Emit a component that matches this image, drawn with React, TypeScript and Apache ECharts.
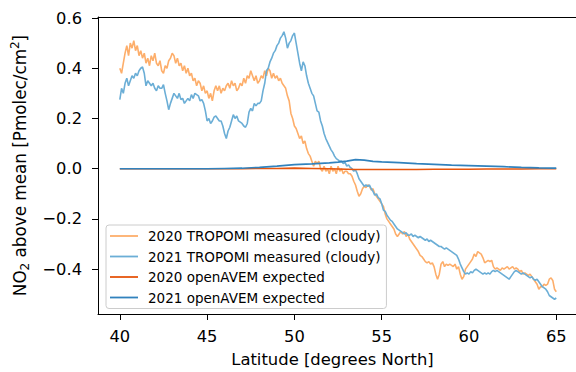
import React, { useEffect, useRef } from "react";
import * as echarts from "echarts";

// Latitude grid (degrees North) for the measured series, 0.1° step from 40 to 65
const latitudes: number[] = Array.from({ length: 251 }, (_, i) => +(40 + i * 0.1).toFixed(1));

// 2020 TROPOMI measured (cloudy), one row per degree (x.0 .. x.9)
const tropomi2020: number[] = [
  0.40, 0.38, 0.42, 0.46, 0.49, 0.45, 0.50, 0.48, 0.51, 0.47,
  0.49, 0.45, 0.47, 0.44, 0.46, 0.42, 0.44, 0.41, 0.45, 0.43,
  0.46, 0.42, 0.41, 0.43, 0.39, 0.38, 0.41, 0.40, 0.43, 0.44,
  0.46, 0.45, 0.42, 0.44, 0.41, 0.42, 0.39, 0.41, 0.38, 0.40,
  0.37, 0.38, 0.35, 0.36, 0.33, 0.35, 0.34, 0.31, 0.33, 0.30,
  0.31, 0.28, 0.30, 0.27, 0.31, 0.33, 0.31, 0.33, 0.30, 0.32,
  0.31, 0.33, 0.34, 0.32, 0.35, 0.33, 0.34, 0.31, 0.32, 0.34,
  0.33, 0.36, 0.34, 0.37, 0.36, 0.39, 0.37, 0.35, 0.37, 0.34,
  0.35, 0.37, 0.36, 0.39, 0.37, 0.40, 0.39, 0.36, 0.38, 0.36,
  0.37, 0.35, 0.36, 0.34, 0.33, 0.32, 0.29, 0.27, 0.22, 0.20,
  0.17, 0.16, 0.14, 0.12, 0.13, 0.10, 0.11, 0.08, 0.06, 0.05,
  0.03, 0.01, 0.03, 0.02, 0.03, 0.00, -0.01, 0.01, -0.01, 0.00,
  -0.02, 0.01, -0.01, 0.00, -0.02, 0.01, -0.01, 0.00, -0.02, -0.01,
  -0.01, -0.02, -0.02, -0.03, -0.05, -0.065, -0.09, -0.11, -0.10, -0.08,
  -0.07, -0.075, -0.065, -0.07, -0.085, -0.08, -0.10, -0.11, -0.12, -0.13,
  -0.14, -0.15, -0.18, -0.20, -0.21, -0.22, -0.23, -0.24, -0.26, -0.27,
  -0.26, -0.25, -0.26, -0.25, -0.27, -0.26, -0.28, -0.29, -0.30, -0.31,
  -0.32, -0.33, -0.345, -0.35, -0.36, -0.37, -0.375, -0.37, -0.38, -0.375,
  -0.39, -0.42, -0.44, -0.42, -0.38, -0.37, -0.39, -0.38, -0.385, -0.38,
  -0.385, -0.39, -0.38, -0.40, -0.39, -0.42, -0.44, -0.43, -0.40, -0.39,
  -0.38, -0.37, -0.36, -0.34, -0.35, -0.33, -0.335, -0.34, -0.355, -0.375,
  -0.37, -0.365, -0.37, -0.365, -0.39, -0.40, -0.395, -0.40, -0.405, -0.395,
  -0.40, -0.395, -0.39, -0.40, -0.395, -0.39, -0.40, -0.395, -0.40, -0.41,
  -0.405, -0.42, -0.415, -0.42, -0.425, -0.42, -0.43, -0.44, -0.45, -0.46,
  -0.48, -0.47, -0.47, -0.46, -0.465, -0.46, -0.44, -0.435, -0.445, -0.48,
  -0.49,
];

// 2021 TROPOMI measured (cloudy)
const tropomi2021: number[] = [
  0.275, 0.32, 0.30, 0.34, 0.36, 0.33, 0.35, 0.37, 0.36, 0.38,
  0.37, 0.39, 0.40, 0.405, 0.38, 0.33, 0.35, 0.34, 0.33, 0.34,
  0.32, 0.31, 0.33, 0.32, 0.32, 0.335, 0.30, 0.27, 0.235, 0.26,
  0.28, 0.30, 0.29, 0.28, 0.30, 0.275, 0.28, 0.26, 0.27, 0.28,
  0.27, 0.295, 0.28, 0.30, 0.295, 0.29, 0.27, 0.275, 0.26, 0.23,
  0.19, 0.20, 0.18, 0.19, 0.205, 0.21, 0.20, 0.19, 0.19, 0.17,
  0.14, 0.12, 0.15, 0.165, 0.19, 0.215, 0.20, 0.21, 0.19, 0.185,
  0.18, 0.17, 0.165, 0.18, 0.225, 0.24, 0.23, 0.26, 0.25, 0.26,
  0.26, 0.27, 0.31, 0.34, 0.39, 0.40, 0.425, 0.44, 0.46, 0.47,
  0.49, 0.50, 0.52, 0.53, 0.545, 0.52, 0.48, 0.50, 0.51, 0.53,
  0.54, 0.50, 0.46, 0.42, 0.39, 0.425, 0.41, 0.37, 0.34, 0.32,
  0.30, 0.29, 0.26, 0.23, 0.225, 0.19, 0.17, 0.14, 0.12, 0.105,
  0.09, 0.075, 0.065, 0.05, 0.04, 0.035, 0.03, 0.03, 0.02, 0.025,
  0.01, 0.015, 0.005, 0.00, -0.01, -0.005, -0.02, -0.04, -0.05, -0.06,
  -0.07, -0.065, -0.07, -0.065, -0.08, -0.09, -0.105, -0.10, -0.115, -0.12,
  -0.14, -0.165, -0.17, -0.185, -0.195, -0.205, -0.21, -0.22, -0.23, -0.24,
  -0.245, -0.25, -0.255, -0.26, -0.255, -0.265, -0.265, -0.26, -0.27, -0.265,
  -0.27, -0.275, -0.27, -0.275, -0.28, -0.285, -0.28, -0.29, -0.285, -0.29,
  -0.295, -0.30, -0.305, -0.31, -0.31, -0.315, -0.32, -0.315, -0.32, -0.325,
  -0.33, -0.335, -0.34, -0.345, -0.36, -0.38, -0.395, -0.41, -0.42, -0.415,
  -0.42, -0.41, -0.415, -0.405, -0.40, -0.405, -0.41, -0.415, -0.42, -0.415,
  -0.42, -0.415, -0.42, -0.41, -0.405, -0.41, -0.405, -0.41, -0.415, -0.42,
  -0.425, -0.43, -0.435, -0.44, -0.43, -0.42, -0.41, -0.405, -0.41, -0.415,
  -0.42, -0.415, -0.42, -0.425, -0.43, -0.435, -0.43, -0.44, -0.445, -0.44,
  -0.45, -0.46, -0.47, -0.475, -0.48, -0.49, -0.505, -0.51, -0.515, -0.52,
  -0.515,
];

// openAVEM expected series
const openavemLat: number[] = [
  40, 41, 42, 43, 44, 45, 46, 47, 48, 49, 50, 51, 52, 52.5, 53, 53.5, 54, 54.5,
  55, 56, 57, 58, 59, 60, 61, 62, 63, 64, 65,
];
const openavem2020: number[] = [
  0, 0, 0, 0, 0, 0, 0, 0, 0.001, 0.001, 0.002, 0.001, 0, -0.001, -0.002, -0.003, -0.003, -0.003,
  -0.003, -0.003, -0.003, -0.002, -0.002, -0.002, -0.001, -0.001, -0.001, 0, 0,
];
const openavem2021: number[] = [
  0, 0, 0, 0, 0, 0, 0.001, 0.002, 0.005, 0.01, 0.016, 0.019, 0.023, 0.026, 0.03, 0.036, 0.034, 0.029,
  0.027, 0.024, 0.02, 0.017, 0.014, 0.012, 0.01, 0.008, 0.005, 0.003, 0.002,
];

const xTicks = [40, 45, 50, 55, 60, 65];
const yTicks = [-0.4, -0.2, 0, 0.2, 0.4, 0.6];

const seriesNames = [
  "2020 TROPOMI measured (cloudy)",
  "2021 TROPOMI measured (cloudy)",
  "2020 openAVEM expected",
  "2021 openAVEM expected",
];
const seriesColors = ["#fdae6b", "#6baed6", "#e6550d", "#3182bd"];

const FONT = "DejaVu Sans";
const X_MIN = 38.75;
const X_MAX = 66.13;
const Y_MIN = -0.5787;
const Y_MAX = 0.604;

export default function App() {
  const ref = useRef<HTMLDivElement>(null);

  useEffect(() => {
    if (!ref.current) return;
    const chart = echarts.init(ref.current, null, { renderer: "svg" });

    const pair = (xs: number[], ys: number[]) => xs.map((x, i) => [x, ys[i]]);
    const fmtY = (v: number) => {
      const s = Math.abs(v).toFixed(1);
      return v < -1e-9 ? "\u2212" + s : s;
    };

    chart.setOption({
      animation: false,
      textStyle: { fontFamily: FONT },
      grid: { left: 98, right: 0, top: 17, bottom: 55, containLabel: false },
      legend: {
        orient: "vertical",
        left: 106,
        top: 225,
        padding: [4, 6, 4, 4],
        icon: "rect",
        itemWidth: 28,
        itemHeight: 1.8,
        itemGap: 6.5,
        backgroundColor: "rgba(255,255,255,0.8)",
        borderColor: "#cccccc",
        borderWidth: 1,
        borderRadius: 3,
        textStyle: {
          fontFamily: FONT,
          fontSize: 13.5,
          color: "#000",
          lineHeight: 14,
          padding: [0, 0, 0, 5],
        },
        data: seriesNames,
      },
      xAxis: [
        {
          type: "value",
          min: X_MIN,
          max: X_MAX,
          name: "Latitude [degrees North]",
          nameLocation: "middle",
          nameGap: 37,
          nameTextStyle: { fontFamily: FONT, fontSize: 16.4, color: "#000", padding: [0, 9, 0, 0] },
          axisLine: { show: true, onZero: false, lineStyle: { color: "#000", width: 1 } },
          axisTick: { show: true, length: 6, lineStyle: { color: "#000", width: 1 }, customValues: xTicks },
          axisLabel: {
            show: true,
            margin: 14,
            fontFamily: FONT,
            fontSize: 16.3,
            color: "#000",
            customValues: xTicks,
            formatter: (v: number) => String(Math.round(v)),
          },
          splitLine: { show: false },
        },
        {
          type: "value",
          position: "top",
          min: X_MIN,
          max: X_MAX,
          axisLine: { show: true, onZero: false, lineStyle: { color: "#000", width: 1 } },
          axisTick: { show: false },
          axisLabel: { show: false },
          splitLine: { show: false },
        },
      ],
      yAxis: {
        type: "value",
        min: Y_MIN,
        max: Y_MAX,
        name: "{a|NO}{b|2}{a| above mean [Pmolec/cm}{c|2}{a|]}",
        nameLocation: "middle",
        nameGap: 67,
        nameTextStyle: {
          fontFamily: FONT,
          fontSize: 16.8,
          color: "#000",
          rich: {
            a: { fontFamily: FONT, fontSize: 16.8, color: "#000", lineHeight: 22 },
            b: { fontFamily: FONT, fontSize: 12, color: "#000", lineHeight: 12, verticalAlign: "bottom" },
            c: { fontFamily: FONT, fontSize: 12, color: "#000", lineHeight: 12, verticalAlign: "top" },
          },
        },
        axisLine: { show: true, onZero: false, lineStyle: { color: "#000", width: 1 } },
        axisTick: { show: true, length: 6, lineStyle: { color: "#000", width: 1 }, customValues: yTicks },
        axisLabel: {
          show: true,
          margin: 16,
          fontFamily: FONT,
          fontSize: 16.3,
          color: "#000",
          customValues: yTicks,
          formatter: fmtY,
        },
        splitLine: { show: false },
      },
      series: [
        {
          name: seriesNames[0],
          type: "line",
          data: pair(latitudes, tropomi2020),
          symbol: "none",
          lineStyle: { color: seriesColors[0], width: 1.6 },
          itemStyle: { color: seriesColors[0] },
        },
        {
          name: seriesNames[1],
          type: "line",
          data: pair(latitudes, tropomi2021),
          symbol: "none",
          lineStyle: { color: seriesColors[1], width: 1.6 },
          itemStyle: { color: seriesColors[1] },
        },
        {
          name: seriesNames[2],
          type: "line",
          data: pair(openavemLat, openavem2020),
          symbol: "none",
          lineStyle: { color: seriesColors[2], width: 1.6 },
          itemStyle: { color: seriesColors[2] },
        },
        {
          name: seriesNames[3],
          type: "line",
          data: pair(openavemLat, openavem2021),
          symbol: "none",
          lineStyle: { color: seriesColors[3], width: 1.6 },
          itemStyle: { color: seriesColors[3] },
        },
      ],
    });

    return () => chart.dispose();
  }, []);

  return <div ref={ref} style={{ width: 576, height: 372, position: "absolute", left: 0, top: 0 }} />;
}
